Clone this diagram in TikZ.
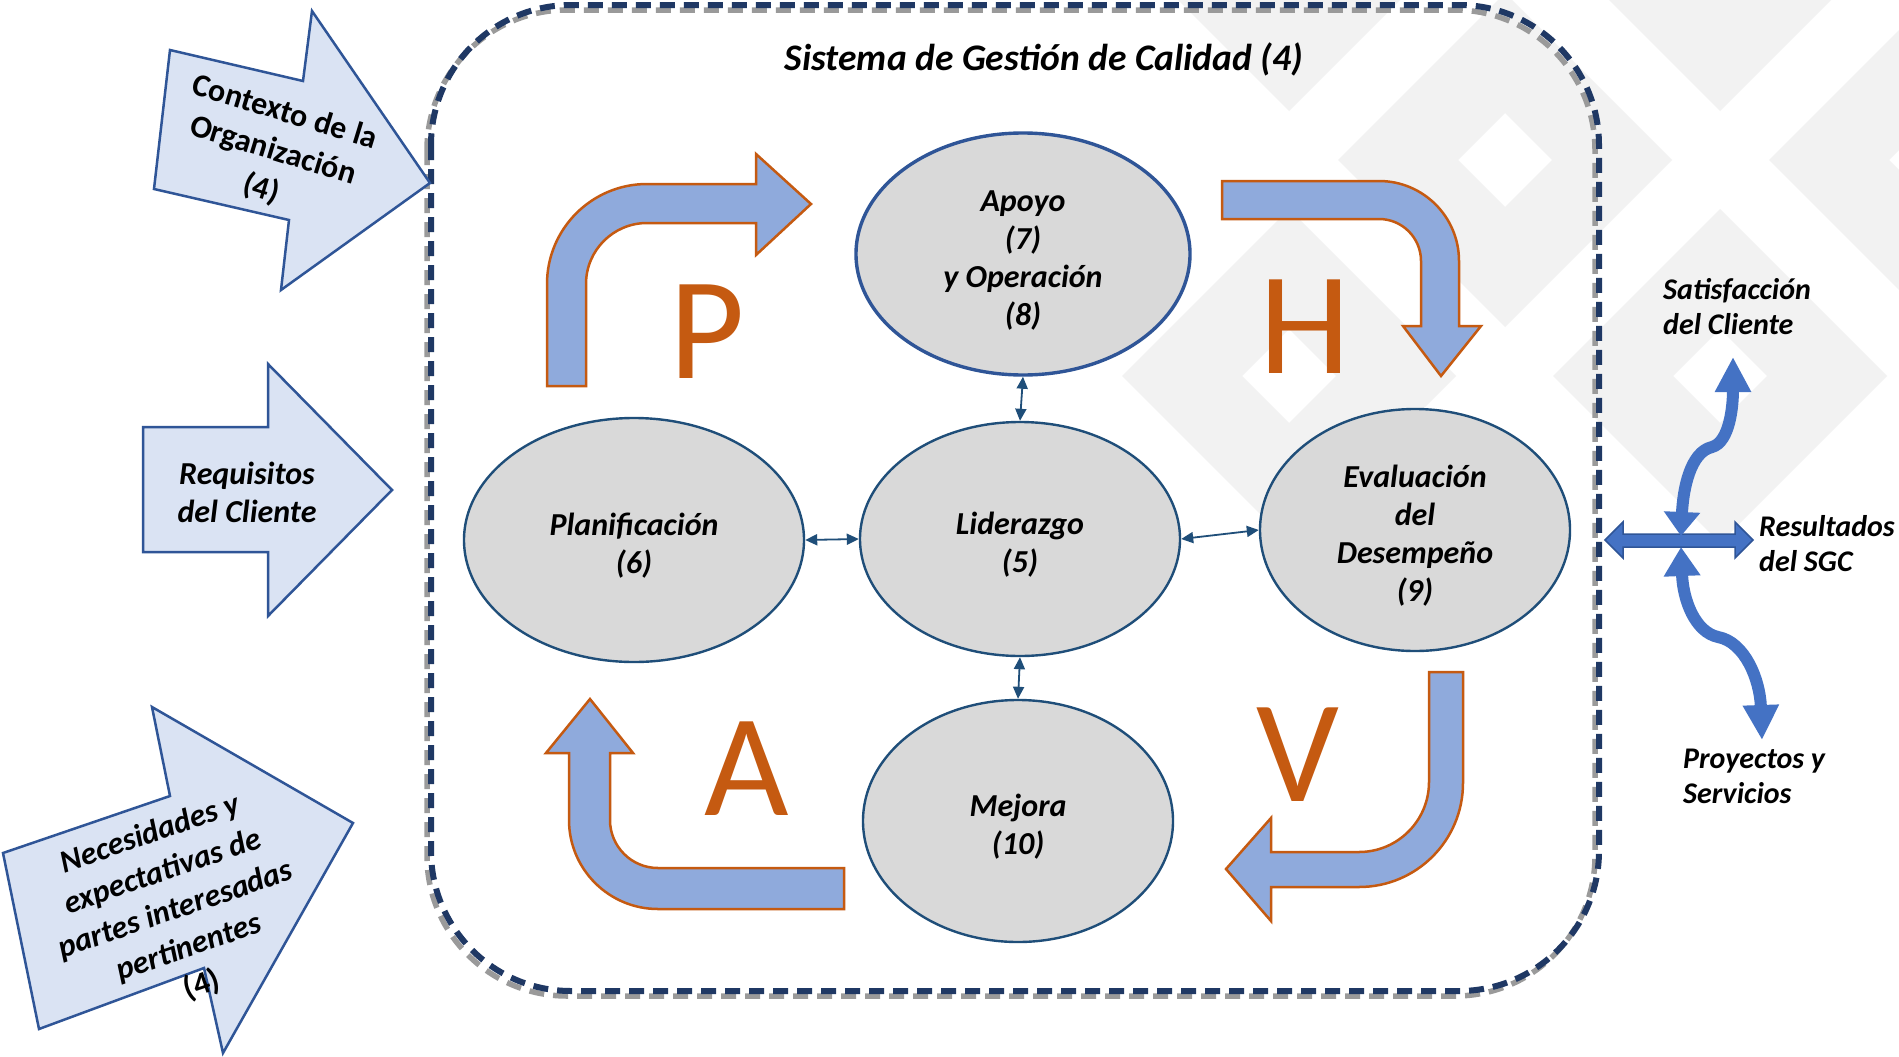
\documentclass[tikz,border=0pt]{standalone}
\usepackage{fontspec}
\setmainfont{Carlito}
\usetikzlibrary{arrows.meta,shapes.geometric}
\definecolor{inblue}{HTML}{DAE3F3}
\definecolor{inborder}{HTML}{2F5597}
\definecolor{bentblue}{HTML}{8FAADC}
\definecolor{pdcaorange}{HTML}{C55A11}
\definecolor{ellgray}{HTML}{D9D9D9}
\definecolor{ellborder}{HTML}{1F4E79}
\definecolor{connblue}{HTML}{1F4E79}
\definecolor{waveblue}{HTML}{4472C4}
\definecolor{boxnavy}{HTML}{1F3864}
\definecolor{boxgray}{HTML}{9A9A9A}
\definecolor{wmgray}{HTML}{F2F2F2}
\newcommand{\ellfont}{\fontsize{32bp}{38bp}\selectfont\bfseries\itshape}
\newcommand{\lblfont}{\fontsize{30bp}{35bp}\selectfont\bfseries\itshape}
\newcommand{\ellstrut}{\rule{0pt}{34bp}}
\begin{document}
\begin{tikzpicture}[x=1bp,y=-1bp,
  wm/.style={fill=wmgray, even odd rule},
  inarrow/.style={fill=inblue, draw=inborder, line width=2.5bp, line join=miter},
  bentarrow/.style={fill=bentblue, draw=pdcaorange, line width=2.5bp, line join=miter},
  ell/.style={ellipse, fill=ellgray, draw=ellborder, line width=2.4bp, inner sep=0pt, align=center, font=\ellfont},
  conn/.style={draw=connblue, line width=1.8bp, {Triangle[length=12bp,width=11bp]}-{Triangle[length=12bp,width=11bp]}},
  pdca/.style={text=pdcaorange, font=\fontsize{146bp}{146bp}\selectfont, anchor=base, inner sep=0pt},
  wave/.style={draw=waveblue, line width=12bp},
  rlabel/.style={font=\lblfont, align=left, inner sep=0pt, anchor=base west},
  dashbox/.style={line width=6bp, dash pattern=on 15bp off 9bp, rounded corners=140bp}
]
\useasboundingbox (0,0) rectangle (1899,1056);
\fill[white] (0,0) rectangle (1899,1056);

% watermark
\foreach \cx/\cy in {1289/376, 1720/376, 1505/160, 1936/160, 1289/-56, 1720/-56}{
  \fill[wm] (\cx-167,\cy) -- (\cx,\cy-167) -- (\cx+167,\cy) -- (\cx,\cy+167) -- cycle
            (\cx-47,\cy) -- (\cx,\cy-47) -- (\cx+47,\cy) -- (\cx,\cy+47) -- cycle;
}

% system boundary
\draw[dashbox, draw=boxgray, line width=5.5bp] (427,10) rectangle (1595,996);
\draw[dashbox, draw=boxnavy] (431,5) rectangle (1599,991);

\node[font=\fontsize{37.5bp}{44bp}\selectfont\bfseries\itshape, anchor=base, inner sep=0pt] (title) at (1044,70) {Sistema de Gestión de Calidad (4)};

% input arrows
\draw[inarrow] (170,50) -- (303,81) -- (312,11) -- (430,183) -- (281,290) -- (289,220) -- (154,189) -- cycle;
\node[rotate=-17, align=center, inner sep=0pt, font=\fontsize{32bp}{40bp}\selectfont\bfseries] (ctx) at (273,151) {Contexto de la\\Organización\\(4)};

\draw[inarrow] (143,427) -- (268,427) -- (268,364) -- (392,490) -- (268,616) -- (268,552) -- (143,552) -- cycle;
\node[align=center, inner sep=0pt, font=\fontsize{32bp}{38bp}\selectfont\bfseries\itshape] (req) at (247,492) {Requisitos\\del Cliente};

\draw[inarrow] (3,853) -- (170,796) -- (152,707) -- (353,823) -- (223,1053) -- (204,968) -- (39,1029) -- cycle;
\node[rotate=19, align=center, inner sep=0pt, font=\fontsize{32bp}{40bp}\selectfont\bfseries\itshape] (nec) at (176,910) {Necesidades y\\expectativas de\\partes interesadas\\pertinentes\\{\upshape(4)}};

% PDCA bent arrows
\draw[bentarrow] (547,386) -- (547,284) arc[start angle=180, end angle=270, radius=100] -- (756,184) -- (756,154) -- (811,204) -- (756,255) -- (756,223) -- (647,223) arc[start angle=270, end angle=180, radius=61] -- (586,386) -- cycle;
\draw[bentarrow] (1222,181) -- (1379,181) arc[start angle=270, end angle=360, radius=80] -- (1459,326) -- (1481,326) -- (1441,376) -- (1403,326) -- (1421,326) -- (1421,261) arc[start angle=0, end angle=-90, radius=42] -- (1222,219) -- cycle;
\draw[bentarrow] (1429,672) -- (1463,672) -- (1463,783) arc[start angle=0, end angle=90, radius=104] -- (1271,887) -- (1271,921) -- (1226,869) -- (1271,818) -- (1271,852) -- (1359,852) arc[start angle=90, end angle=0, radius=70] -- cycle;
\draw[bentarrow] (844,868) -- (658,868) arc[start angle=90, end angle=180, radius=48] -- (610,753) -- (633,753) -- (590,699) -- (546,753) -- (569,753) -- (569,820) arc[start angle=180, end angle=90, radius=89] -- (844,909) -- cycle;

\node[pdca] (p) at (707,378) {P};
\node[pdca] (h) at (1305,373) {H};
\node[pdca] (a) at (747,815) {A};
\node[pdca] (v) at (1298,801) {V};

% process ellipses
\node[ell, draw=inborder, line width=3.4bp, minimum width=334bp, minimum height=242bp] (apoyo) at (1023,254) {\ellstrut Apoyo\\(7)\\y Operación\\(8)};
\node[ell, minimum width=320bp, minimum height=234bp] (lider) at (1020,539) {\ellstrut Liderazgo\\(5)};
\node[ell, minimum width=340bp, minimum height=244bp] (plan) at (634,540) {\ellstrut Planificación\\(6)};
\node[ell, minimum width=310bp, minimum height=242bp] (eval) at (1415,530) {\ellstrut Evaluación\\del\\Desempeño\\(9)};
\node[ell, minimum width=310bp, minimum height=242bp] (mejora) at (1018,821) {\ellstrut Mejora\\(10)};

\draw[conn] (apoyo.south) -- (lider.north);
\draw[conn] (plan.east) -- (lider.west);
\draw[conn] (lider.east) -- (eval.west);
\draw[conn] (lider.south) -- (mejora.north);

% outputs
\coordinate (cross) at (1681,540);
\coordinate (hl) at (1605,540);
\coordinate (hr) at (1753,540);
\coordinate (up) at (1733,357);
\coordinate (dn) at (1762,740);
\fill[waveblue, draw=inborder, line width=1.5bp] (hl) -- (1623,522) -- (1623,534) -- (1735,534) -- (1735,522) -- (hr) -- (1735,558) -- (1735,547) -- (1623,547) -- (1623,558) -- cycle;
\draw[wave, {Triangle[length=24bp,width=35bp]}-{Triangle[length=35bp,width=34bp]}] (1681,536) .. controls (1683,490) and (1690,452) .. (1712,447) .. controls (1730,442) and (1733,405) .. (up);
\draw[wave, {Triangle[length=29bp,width=35bp]}-{Triangle[length=35bp,width=34bp]}] (1681,547) .. controls (1683,600) and (1695,632) .. (1718,637) .. controls (1745,642) and (1760,680) .. (dn);

\node[rlabel] (satis) at (1663,334) {Satisfacción\\del Cliente};
\node[rlabel] (result) at (1759,571) {Resultados\\del SGC};
\node[rlabel] (proy) at (1683,803) {Proyectos y\\Servicios};
\end{tikzpicture}
\end{document}
